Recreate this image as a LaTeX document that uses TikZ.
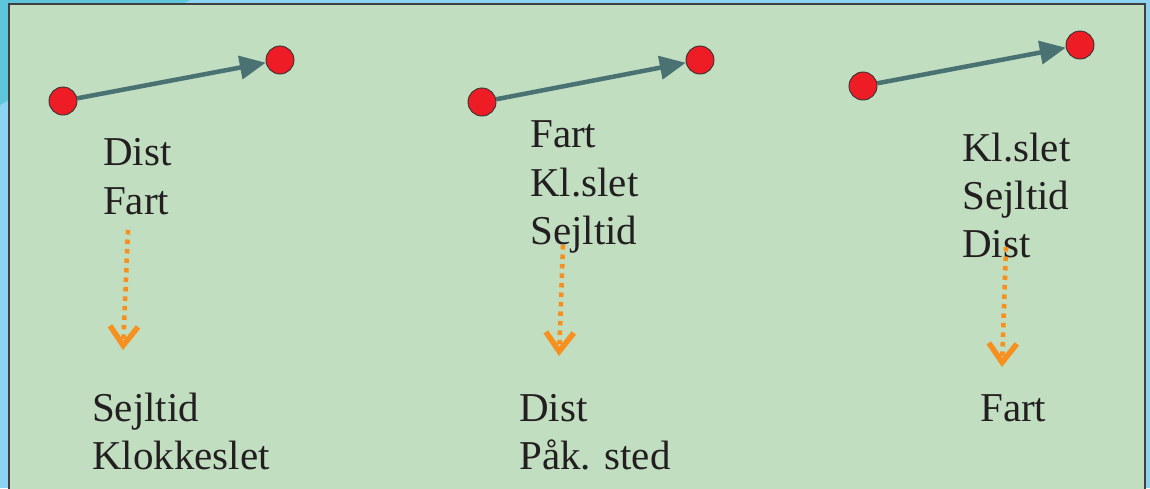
\documentclass[tikz,border=0pt]{standalone}
\usepackage{fontspec}
\setmainfont{Liberation Serif}
\usetikzlibrary{arrows.meta}
\definecolor{bgblue}{HTML}{8CD4F2}
\definecolor{bgteal}{HTML}{5EC6DA}
\definecolor{panelgreen}{HTML}{C1DEC1}
\definecolor{dotred}{HTML}{EE1C25}
\definecolor{arrowslate}{HTML}{4A7272}
\definecolor{dashorange}{HTML}{F7901E}
\definecolor{txtdark}{HTML}{231F20}
\tikzset{
  dotnode/.style={circle, fill=dotred, draw=black!80, line width=0.9pt, minimum size=28pt, inner sep=0pt},
  vecarrow/.style={draw=arrowslate, line width=4.5pt, -{Triangle[length=26pt,width=23pt]}},
  lbl/.style={anchor=base west, inner sep=0pt, text=txtdark, font=\fontsize{41}{48}\selectfont},
  flowarrow/.style={draw=dashorange, line width=4.6pt, dash pattern=on 4.5pt off 5pt,
    -{Straight Barb[length=19pt,width=28pt,line width=5.5pt]}}
}
\begin{document}
\begin{tikzpicture}[x=1pt,y=-1pt]
\useasboundingbox (0,0) rectangle (1150,488);
\fill[bgblue] (0,0) rectangle (1150,488);
\fill[bgteal] (0,0) -- (190,0) -- (0,105) -- cycle;
\fill[panelgreen] (9,4) rectangle (1145,495);
\draw[black!75, line width=1.3pt] (9,495) -- (9,4) -- (1145,4) -- (1145,495);

% column 1
\node[dotnode] (a1) at (63,101) {};
\node[dotnode] (b1) at (280,60) {};
\draw[vecarrow] (a1) -- (b1);
\node[lbl] (t1a) at (103,165) {Dist};
\node[lbl] (t1b) at (103,214) {Fart};
\coordinate (s1) at (128,230);
\coordinate (e1) at (123,350);
\draw[flowarrow] (s1) -- (e1);
\node[lbl] (u1a) at (92,421) {Sejltid};
\node[lbl] (u1b) at (92,469) {Klokkeslet};

% column 2
\node[dotnode] (a2) at (482,102) {};
\node[dotnode] (b2) at (700,60) {};
\draw[vecarrow] (a2) -- (b2);
\node[lbl] (t2a) at (530,147) {Fart};
\node[lbl] (t2b) at (530,196) {Kl.slet};
\node[lbl] (t2c) at (530,244) {Sejltid};
\coordinate (s2) at (563,245);
\coordinate (e2) at (559,356);
\draw[flowarrow] (s2) -- (e2);
\node[lbl] (u2a) at (519,421) {Dist};
\node[lbl] (u2b) at (519,469) {Påk. sted};

% column 3
\node[dotnode] (a3) at (863,86) {};
\node[dotnode] (b3) at (1080,45) {};
\draw[vecarrow] (a3) -- (b3);
\node[lbl] (t3a) at (962,161) {Kl.slet};
\node[lbl] (t3b) at (962,209) {Sejltid};
\node[lbl] (t3c) at (962,257) {Dist};
\coordinate (s3) at (1006,247);
\coordinate (e3) at (1002,367);
\draw[flowarrow] (s3) -- (e3);
\node[lbl] (u3a) at (980,421) {Fart};
\end{tikzpicture}
\end{document}
